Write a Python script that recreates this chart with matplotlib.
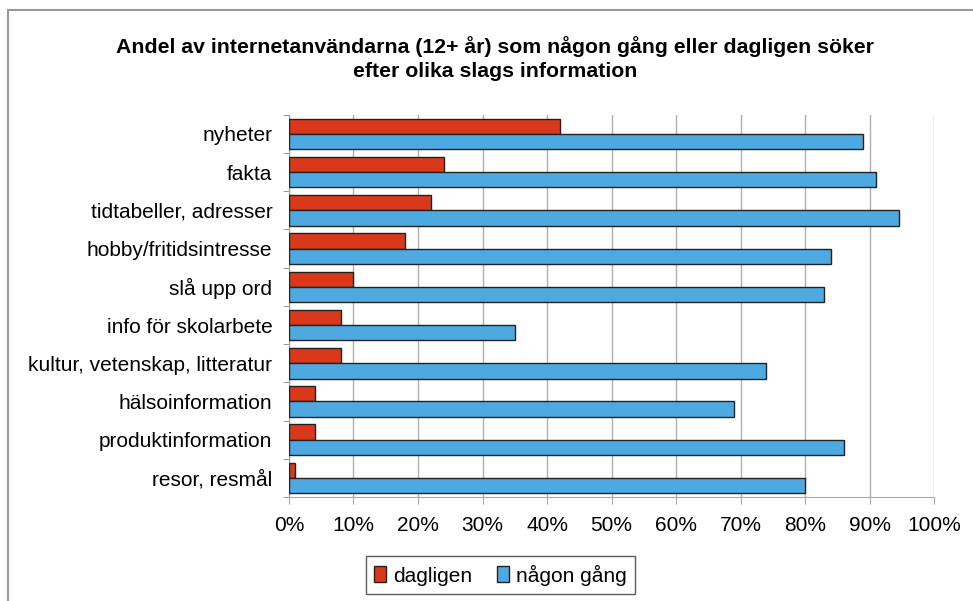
import matplotlib.pyplot as plt
import numpy as np
from matplotlib.patches import Rectangle
from matplotlib.ticker import PercentFormatter

categories = ["nyheter", "fakta", "tidtabeller, adresser", "hobby/fritidsintresse",
              "slå upp ord", "info för skolarbete", "kultur, vetenskap, litteratur",
              "hälsoinformation", "produktinformation", "resor, resmål"]
dagligen = [42, 24, 22, 18, 10, 8, 8, 4, 4, 1]
nagon_gang = [89, 91, 94.5, 84, 83, 35, 74, 69, 86, 80]

plt.rcParams['font.family'] = ['Liberation Sans', 'DejaVu Sans']

fig = plt.figure(figsize=(9.73, 6.01), dpi=100)
ax = fig.add_axes([0.297, 0.173, 0.663, 0.636])

y = np.arange(len(categories))
h = 0.4
ax.barh(y - h / 2, dagligen, height=h, color="#D9391A", edgecolor="#222222",
        linewidth=1, label="dagligen", zorder=3)
ax.barh(y + h / 2, nagon_gang, height=h, color="#4FA9E1", edgecolor="#222222",
        linewidth=1, label="någon gång", zorder=3)

ax.set_ylim(len(categories) - 0.5, -0.5)
ax.set_yticks(y)
ax.set_yticklabels(categories, fontsize=15)
ax.set_yticks(np.arange(len(categories) + 1) - 0.5, minor=True)
ax.tick_params(axis="y", which="major", length=0, pad=12)
ax.tick_params(axis="y", which="minor", length=4, color="#888888")

ax.set_xlim(0, 100)
ax.set_xticks(range(0, 101, 10))
ax.xaxis.set_major_formatter(PercentFormatter(decimals=0))
ax.tick_params(axis="x", labelsize=15, length=5, color="#AAAAAA", pad=9)
ax.grid(axis="x", color="#B0B0B0", linewidth=1, zorder=0)

for s in ["top", "right"]:
    ax.spines[s].set_visible(False)
ax.spines["left"].set_color("#999999")
ax.spines["bottom"].set_color("#AAAAAA")

fig.text(0.509, 0.903, "Andel av internetanvändarna (12+ år) som någon gång eller dagligen söker\nefter olika slags information",
         ha="center", va="center", fontsize=15.3, fontweight="bold", linespacing=1.35)

leg = fig.legend(loc="center", bbox_to_anchor=(0.514, 0.043), ncol=2,
                 fontsize=15, frameon=True, fancybox=False, edgecolor="#333333",
                 handlelength=0.6, handleheight=0.8, handletextpad=0.3, columnspacing=1.2,
                 borderpad=0.4)
leg.get_frame().set_linewidth(1)

# chart frame: only left and top edges fall inside the picture
fig.patches.append(Rectangle((0.008, -0.1), 1.2, 1.083, transform=fig.transFigure,
                             fill=False, edgecolor="#999999", linewidth=1.5))

fig.savefig("out.png", dpi=100)
